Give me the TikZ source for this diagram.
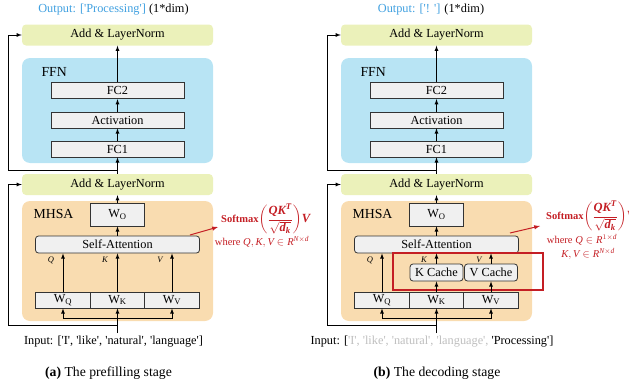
\documentclass[tikz,border=0pt]{standalone}
\usepackage{amsmath}
\usepackage{fontspec}
\setmainfont{Liberation Serif}[Ligatures=TeXOff]
\usetikzlibrary{positioning,calc}

\definecolor{outblue}{RGB}{64,160,224}
\definecolor{attnred}{RGB}{196,30,36}
\definecolor{addgreen}{RGB}{235,241,186}
\definecolor{ffnblue}{RGB}{184,228,244}
\definecolor{mhsaorange}{RGB}{249,220,176}
\definecolor{oldgray}{RGB}{190,190,190}

\newcommand{\boxfont}{\fontsize{12.3}{14}\selectfont}
\newcommand{\regionfont}{\fontsize{13.8}{16}\selectfont}
\newcommand{\qkvfont}{\fontsize{8.5}{10}\selectfont\itshape}
\newcommand{\formulafont}{\fontsize{10.5}{12}\selectfont}
\newcommand{\fracfont}{\fontsize{12.5}{14}\selectfont}
\newcommand{\capfont}{\fontsize{13.7}{16}\selectfont}
\newcommand{\bi}[1]{\text{\bfseries\itshape #1}}
\newcommand{\ti}[1]{\text{\itshape #1}}
\newcommand{\softmaxexpr}{\textbf{Softmax}{\fracfont$\left(\dfrac{\bi{QK}^{\bi{T}}}{\sqrt{\bi{d}_{\bi{k}}}}\right)\!\bi{V}$}}

\begin{document}
\begin{tikzpicture}[x=1pt,y=-1pt,>=latex,
		layer/.style={rectangle,draw=black!80,fill=gray!12,line width=0.8pt,
			inner sep=0pt,minimum width=133pt,minimum height=16.5pt,font=\boxfont},
		wbox/.style={layer,minimum width=54.5pt,minimum height=16pt},
		cache/.style={layer,rounded corners=3pt,minimum width=53pt,minimum height=17pt},
		addnorm/.style={rectangle,rounded corners=4pt,fill=addgreen,inner sep=0pt,
			minimum width=191pt,minimum height=21pt,font=\boxfont},
		region/.style={rectangle,rounded corners=8pt,inner sep=0pt,minimum width=191pt},
		flow/.style={->,line width=0.8pt},
		redflow/.style={->,draw=attnred,line width=1pt},
		formula/.style={text=attnred,inner sep=0pt,font=\formulafont}]
		\useasboundingbox (0,0) rectangle (629,388);

		% Blocks shared by both stages
		\foreach \p/\dx in {a/0,b/319} {
			\begin{scope}[xshift=\dx pt]
				\node[region,fill=ffnblue,minimum height=105pt] (\p-ffn) at (117.5,110.5) {};
				\node[region,fill=mhsaorange,minimum height=120pt] (\p-mhsa) at (117.5,261) {};
				\node[font=\regionfont,anchor=west] (\p-ffnlab) at (38,72) {FFN};
				\node[font=\regionfont,anchor=west] (\p-mhsalab) at (30,214) {MHSA};

				\node[addnorm] (\p-top) at (117.5,35) {Add \& LayerNorm};
				\node[layer] (\p-fc2) at (117.5,90.5) {FC2};
				\node[layer,minimum height=16pt] (\p-act) at (117.5,120) {Activation};
				\node[layer,minimum height=16pt] (\p-fc1) at (117.5,149) {FC1};
				\node[addnorm] (\p-add) at (117.5,184.5) {Add \& LayerNorm};

				\node[layer,minimum width=54pt,minimum height=23pt] (\p-wo) at (117.5,214.5) {W$_{\mathrm{O}}$};
				\node[layer,rounded corners=3pt,minimum width=164pt,minimum height=17pt] (\p-sa) at (117.5,244.5) {Self-Attention};
				\node[wbox] (\p-wq) at (63,300) {W$_{\mathrm{Q}}$};
				\node[wbox] (\p-wk) at (117.5,300) {W$_{\mathrm{K}}$};
				\node[wbox] (\p-wv) at (172,300) {W$_{\mathrm{V}}$};

				\node[font=\qkvfont] (\p-q) at (51,260) {Q};
				\node[font=\qkvfont] (\p-k) at (105,260) {K};
				\node[font=\qkvfont] (\p-v) at (160,260) {V};

				% Vertical flow
				\draw[flow] (\p-fc2) -- (\p-top);
				\draw[flow] (\p-act) -- (\p-fc2);
				\draw[flow] (\p-fc1) -- (\p-act);
				\draw[flow] (\p-add) -- (\p-fc1);
				\draw[flow] (\p-wo) -- (\p-add);
				\draw[flow] (\p-sa.north -| \p-wo) -- (\p-wo);
				\draw[flow] (\p-wq) -- (\p-wq |- \p-sa.south);

				% Input and its split
				\coordinate (\p-src) at (117.5,333);
				\coordinate (\p-split) at (117.5,318);
				\draw[flow] (\p-src) -- (\p-wk);
				\draw[flow] (\p-split) -| (\p-wq);
				\draw[flow] (\p-split) -| (\p-wv);

				% Residual connections
				\coordinate (\p-res1) at (117.5,325);
				\coordinate (\p-res2) at (117.5,170);
				\draw[flow] (\p-res1) -- ++(-109.5,0) |- (\p-add);
				\draw[flow] (\p-res2) -- ++(-109.5,0) |- (\p-top);
			\end{scope}
		}

		% (a) prefilling: K and V go straight to attention
		\draw[flow] (a-wk) -- (a-wk |- a-sa.south);
		\draw[flow] (a-wv) -- (a-wv |- a-sa.south);

		% (b) decoding: K and V pass through the cache
		\node[cache] (b-kc) at (436.5,272.5) {K Cache};
		\node[cache] (b-vc) at (491,272.5) {V Cache};
		\draw[attnred,line width=1.1pt] (393,253) rectangle (543,290);
		\draw[flow] (b-wk) -- (b-kc);
		\draw[flow] (b-kc) -- (b-kc |- b-sa.south);
		\draw[flow] (b-wv) -- (b-vc);
		\draw[flow] (b-vc) -- (b-vc |- b-sa.south);

		% Outputs
		\node[font=\boxfont] (a-out) at (113.5,10) {\textcolor{outblue}{Output: ['Processing']} (1*dim)};
		\node[font=\boxfont] (b-out) at (431,10) {\textcolor{outblue}{Output: ['! ']} (1*dim)};

		% Inputs
		\node[font=\boxfont] (a-in) at (113.5,342) {Input: ['I', 'like', 'natural', 'language']};
		\node[font=\boxfont] (b-in) at (432,342)
			{Input: [\textcolor{oldgray}{'I', 'like', 'natural', 'language',} 'Processing']};

		% Attention formulas
		\node[formula,anchor=west] (a-softmax) at (221,219) {\softmaxexpr};
		\node[formula] (a-where) at (262,242)
			{where $\ti{Q}, \ti{K}, \ti{V} \in \ti{R}^{\ti{N}\times\ti{d}}$};
		\coordinate (a-from) at (190,235);
		\coordinate (a-to) at (218,227);
		\draw[redflow] (a-from) -- (a-to);

		\node[formula,anchor=west] (b-softmax) at (546,216) {\softmaxexpr};
		\node[formula] (b-where) at (582,240) {where $\ti{Q} \in \ti{R}^{1\times\ti{d}}$};
		\node[formula] (b-kv) at (588,254) {$\ti{K}, \ti{V} \in \ti{R}^{\ti{N}\times\ti{d}}$};
		\coordinate (b-from) at (510,233);
		\coordinate (b-to) at (540,226);
		\draw[redflow] (b-from) -- (b-to);

		% Captions
		\node[font=\capfont] (a-cap) at (108.5,373) {\textbf{(a)} The prefilling stage};
		\node[font=\capfont] (b-cap) at (437,373) {\textbf{(b)} The decoding stage};
	\end{tikzpicture}
\end{document}
